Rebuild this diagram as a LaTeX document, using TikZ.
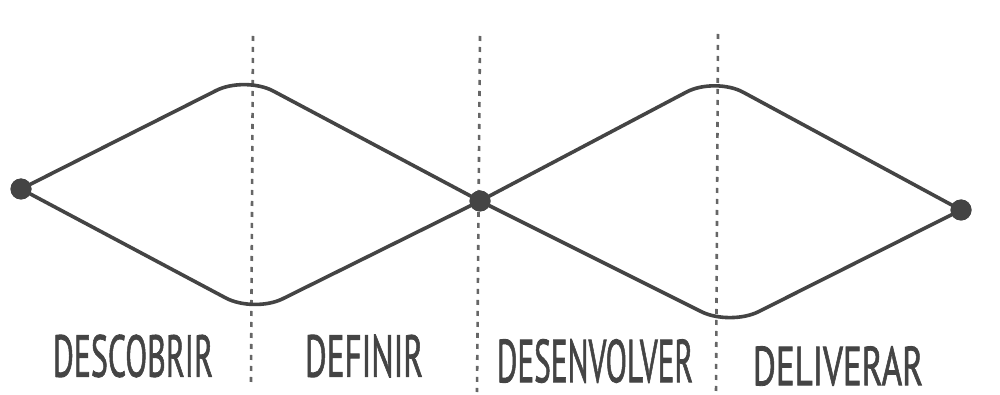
\documentclass[tikz,border=0pt]{standalone}
\usepackage{fontspec}
\setsansfont{PT Sans}
\usepackage{graphicx}
\definecolor{ink}{HTML}{444444}
\definecolor{dashink}{HTML}{666666}
\begin{document}
\begin{tikzpicture}[x=1pt,y=-1pt,
  curve/.style={draw=ink,line width=3.6pt,rounded corners=32pt},
  dotnode/.style={circle,fill=ink,draw=none,minimum size=21pt,inner sep=0pt},
  divider/.style={draw=dashink,line width=2.6pt,dash pattern=on 5pt off 6pt},
  label/.style={text=ink,inner sep=0pt,font=\sffamily}]
\fill[white] (0,0) rectangle (1000,395);
\useasboundingbox (0,0) rectangle (1000,395);
% dividers
\coordinate (d1t) at (253,36); \coordinate (d1b) at (251,385);
\coordinate (d2t) at (480,36); \coordinate (d2b) at (477,392);
\coordinate (d3t) at (718,34); \coordinate (d3b) at (716,395);
\draw[divider] (d1t) -- (d1b);
\draw[divider] (d2t) -- (d2b);
\draw[divider] (d3t) -- (d3b);
% corners
\coordinate (T1) at (245,76);
\coordinate (B1) at (254,313);
\coordinate (T2) at (715,77);
\coordinate (B2) at (730,326);
% dots
\node[dotnode] (L) at (21,189) {};
\node[dotnode] (M) at (480,201) {};
\node[dotnode] (R) at (961,210) {};
% curves
\draw[curve] (L.center) -- (T1) -- (M.center);
\draw[curve] (L.center) -- (B1) -- (M.center);
\draw[curve] (M.center) -- (T2) -- (R.center);
\draw[curve] (M.center) -- (B2) -- (R.center);
\node[dotnode] at (L) {};
\node[dotnode] at (M) {};
\node[dotnode] at (R) {};
% labels
\node[label] (l1) at (133,356) {\resizebox{160pt}{42pt}{\addfontfeature{FakeBold=1.5}DESCOBRIR}};
\node[label] (l2) at (364,356) {\resizebox{118pt}{42pt}{\addfontfeature{FakeBold=1.5}DEFINIR}};
\node[label] (l3) at (595,361) {\resizebox{196pt}{43pt}{\addfontfeature{FakeBold=1.5}DESENVOLVER}};
\node[label] (l4) at (838,366) {\resizebox{170pt}{39pt}{\addfontfeature{FakeBold=1.5}DELIVERAR}};
\end{tikzpicture}
\end{document}
